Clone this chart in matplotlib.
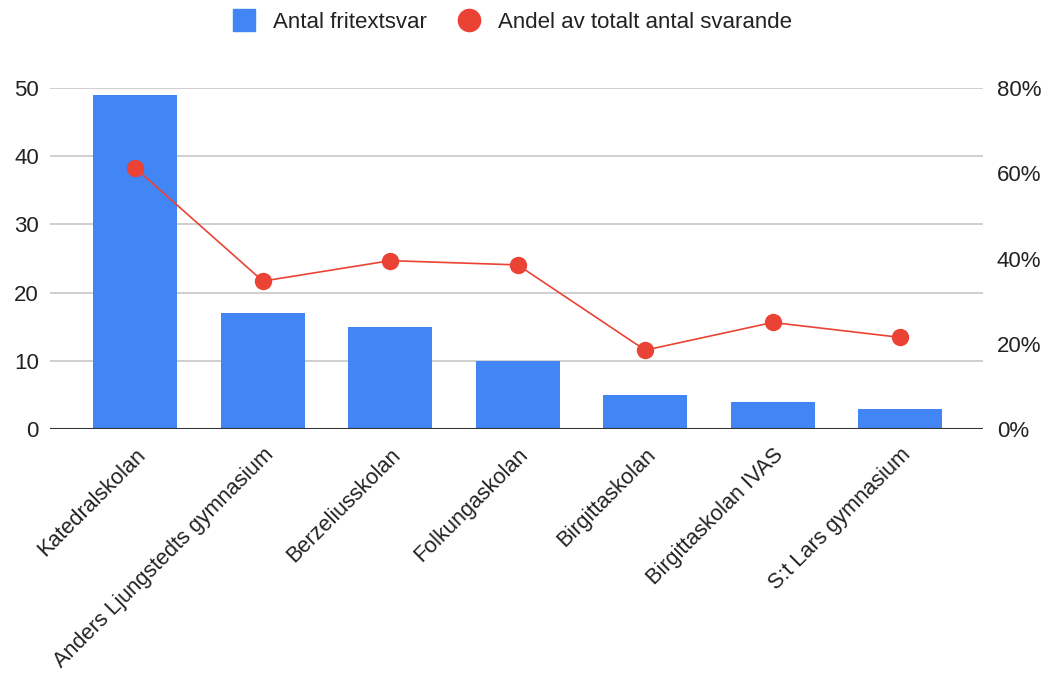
import matplotlib.pyplot as plt
from matplotlib.lines import Line2D
from matplotlib.ticker import FuncFormatter

plt.rcParams['font.family'] = ['Liberation Sans', 'DejaVu Sans']

schools = ['Katedralskolan', 'Anders Ljungstedts gymnasium', 'Berzeliusskolan',
           'Folkungaskolan', 'Birgittaskolan', 'Birgittaskolan IVAS', 'S:t Lars gymnasium']
fritext = [49, 17, 15, 10, 5, 4, 3]
andel = [0.612, 0.347, 0.395, 0.385, 0.185, 0.25, 0.215]

blue = '#4285F4'
red = '#EA4335'
text_col = '#222222'

fig = plt.figure(figsize=(10.49, 6.77), dpi=100)
ax1 = fig.add_axes([0.0477, 0.3663, 0.8893, 0.5037])
ax2 = ax1.twinx()

x = list(range(len(schools)))
ax1.bar(x, fritext, width=0.66, color=blue, zorder=2)
ax2.plot(x, andel, color=red, linewidth=1.2, marker='o', markersize=11.5, zorder=3)

ax1.set_xlim(-0.67, 6.65)
ax1.set_ylim(0, 50)
ax1.set_yticks(range(0, 51, 10))
ax2.set_ylim(0, 0.8)
ax2.set_yticks([0, 0.2, 0.4, 0.6, 0.8])
ax2.yaxis.set_major_formatter(FuncFormatter(lambda v, p: f'{v * 100:.0f}%'))

ax1.grid(axis='y', color='#cccccc', linewidth=1.3, zorder=0)
ax1.set_axisbelow(True)
for ax in (ax1, ax2):
    for s in ['top', 'right', 'left', 'bottom']:
        ax.spines[s].set_visible(False)
    ax.tick_params(length=0, labelsize=16, colors=text_col)
ax1.axhline(0, color='#333333', linewidth=1.5, zorder=4)
ax1.tick_params(axis='y', pad=8)
ax2.tick_params(axis='y', pad=10)

ax1.set_xticks(x)
ax1.set_xticklabels(schools, rotation=45, ha='right', rotation_mode='anchor')
ax1.tick_params(axis='x', pad=11, labelsize=15.6)

handles = [
    Line2D([], [], marker='s', linestyle='none', markersize=16, color=blue),
    Line2D([], [], marker='o', linestyle='none', markersize=16, color=red),
]
fig.legend(handles, ['Antal fritextsvar', 'Andel av totalt antal svarande'],
           loc='center', bbox_to_anchor=(0.483, 0.967), ncol=2, frameon=False,
           fontsize=16, labelcolor=text_col, handletextpad=0.3, columnspacing=0.9)

fig.savefig('out.png', dpi=100)
